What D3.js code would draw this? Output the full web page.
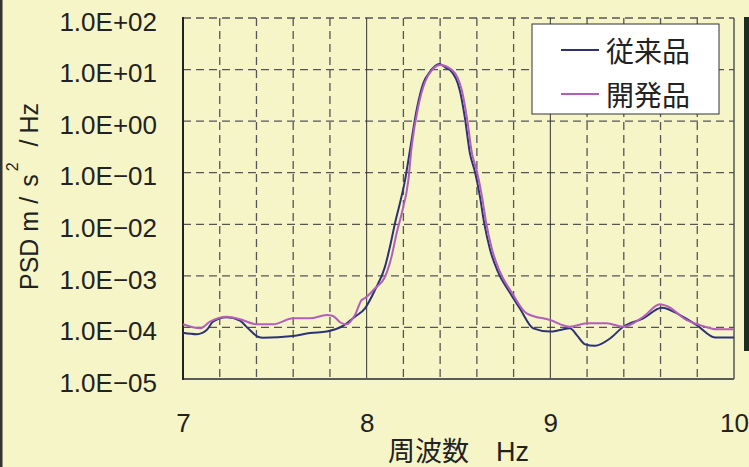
<!DOCTYPE html>
<html>
<head>
<meta charset="utf-8">
<script src="https://cdn.jsdelivr.net/npm/d3@7"></script>
<style>
  body { margin: 0; background: #f6f5c8; }
  svg { display: block; }
</style>
</head>
<body>
<svg id="chart"></svg>
<script>
const WIDTH = 749;
const HEIGHT = 467;

// 従来品 (conventional)
const convFreq = [7.000, 7.075, 7.129, 7.163, 7.238, 7.310, 7.354, 7.408, 7.436, 7.599,
  7.691, 7.782, 7.871, 7.936, 7.991, 8.045, 8.100, 8.127, 8.154, 8.181,
  8.209, 8.236, 8.272, 8.308, 8.345, 8.395, 8.436, 8.454, 8.508, 8.535,
  8.562, 8.590, 8.617, 8.639, 8.671, 8.715, 8.780, 8.835, 8.907, 8.998,
  9.053, 9.107, 9.144, 9.189, 9.243, 9.325, 9.397, 9.506, 9.606, 9.706,
  9.797, 9.897, 10.000];
const convPsd = [7.9e-5, 7.4e-5, 8.9e-5, 1.29e-4, 1.57e-4, 1.35e-4, 9.6e-5, 6.6e-5, 6.3e-5, 6.8e-5,
  7.8e-5, 8.3e-5, 1.07e-4, 1.61e-4, 2.35e-4, 5.3e-4, 1.51e-3, 3.7e-3, 1.04e-2, 2.55e-2,
  7.2e-2, 0.276, 1.64, 5.42, 9.1, 12.8, 10.6, 9.8, 3.85, 1.15,
  0.24, 0.103, 0.034, 0.011, 3.3e-3, 1.19e-3, 4.7e-4, 2.3e-4, 9.6e-5, 8.3e-5,
  8.9e-5, 9.6e-5, 7.1e-5, 4.7e-5, 4.4e-5, 6.1e-5, 1.03e-4, 1.50e-4, 2.41e-4, 1.74e-4,
  1.11e-4, 6.4e-5, 6.4e-5];

// 開発品 (developed)
const devFreq = [7.000, 7.093, 7.147, 7.238, 7.310, 7.401, 7.490, 7.599, 7.691, 7.782,
  7.817, 7.855, 7.891, 7.936, 7.973, 7.991, 8.045, 8.100, 8.136, 8.163,
  8.191, 8.227, 8.245, 8.281, 8.318, 8.356, 8.399, 8.465, 8.519, 8.546,
  8.573, 8.601, 8.628, 8.650, 8.682, 8.726, 8.791, 8.871, 8.998, 9.107,
  9.198, 9.307, 9.397, 9.506, 9.597, 9.634, 9.743, 9.815, 9.906, 10.000];
const devPsd = [1.15e-4, 9.6e-5, 1.29e-4, 1.61e-4, 1.44e-4, 1.15e-4, 1.15e-4, 1.50e-4, 1.50e-4, 1.74e-4,
  1.67e-4, 1.26e-4, 1.15e-4, 1.74e-4, 3.4e-4, 3.7e-4, 5.7e-4, 9.6e-4, 2.4e-3, 6.7e-3,
  1.63e-2, 7.2e-2, 0.32, 1.91, 5.8, 9.8, 12.3, 9.8, 3.85, 1.15,
  0.24, 0.103, 0.034, 0.011, 3.3e-3, 1.19e-3, 4.7e-4, 1.88e-4, 1.39e-4, 1.03e-4,
  1.20e-4, 1.20e-4, 1.03e-4, 1.61e-4, 2.81e-4, 2.61e-4, 1.39e-4, 1.11e-4, 9.2e-5, 9.2e-5];

const seriesNames = ["従来品", "開発品"];
const seriesColors = ["#2d3272", "#b25fba"];

const yTickValues = [1e-5, 1e-4, 1e-3, 1e-2, 1e-1, 1e0, 1e1, 1e2];
const yTickLabels = ["1.0E\u221205", "1.0E\u221204", "1.0E\u221203", "1.0E\u221202",
  "1.0E\u221201", "1.0E+00", "1.0E+01", "1.0E+02"];
const xTickValues = [7, 8, 9, 10];

const xTitle = "周波数\u3000Hz";

// plot frame
const plot = { left: 183, right: 734, top: 18, bottom: 379 };

const svg = d3.select("#chart")
  .attr("width", WIDTH)
  .attr("height", HEIGHT)
  .style("font-family", "'Liberation Sans', Arial, 'Noto Sans CJK JP', sans-serif");

svg.append("rect")
  .attr("width", WIDTH)
  .attr("height", HEIGHT)
  .attr("fill", "#f6f5c8");

// edge of the outer frame, left, and a cut-off dark panel on the right
svg.append("rect").attr("x", 0).attr("y", 0).attr("width", 2.5).attr("height", HEIGHT).attr("fill", "#333");
svg.append("rect").attr("x", 744).attr("y", 17).attr("width", 5).attr("height", 334).attr("fill", "#1f2a20");

const xScale = d3.scaleLinear().domain([7, 10]).range([plot.left, plot.right]);
const yScale = d3.scaleLog().domain([1e-5, 1e2]).range([plot.bottom, plot.top]);

const grid = svg.append("g");

// horizontal dashed grid, one per decade
grid.selectAll(".hgrid")
  .data(yTickValues.slice(1))
  .enter()
  .append("line")
  .attr("class", "hgrid")
  .attr("x1", plot.left)
  .attr("x2", plot.right)
  .attr("y1", d => yScale(d))
  .attr("y2", d => yScale(d))
  .attr("stroke", "#555")
  .attr("stroke-width", 1.3)
  .attr("stroke-dasharray", "8,5");

// vertical dashed grid every 0.2 Hz
const minorX = d3.range(1, 15).map(i => 7 + i * 0.2).filter(v => Math.abs(v - Math.round(v)) > 0.01);
grid.selectAll(".vgrid")
  .data(minorX)
  .enter()
  .append("line")
  .attr("class", "vgrid")
  .attr("x1", d => xScale(d))
  .attr("x2", d => xScale(d))
  .attr("y1", plot.top)
  .attr("y2", plot.bottom)
  .attr("stroke", "#555")
  .attr("stroke-width", 1.3)
  .attr("stroke-dasharray", "8,5");

// solid lines at whole Hz
grid.selectAll(".vmajor")
  .data([8, 9])
  .enter()
  .append("line")
  .attr("class", "vmajor")
  .attr("x1", d => xScale(d))
  .attr("x2", d => xScale(d))
  .attr("y1", plot.top)
  .attr("y2", plot.bottom)
  .attr("stroke", "#333")
  .attr("stroke-width", 1);

grid.append("line")
  .attr("x1", plot.right).attr("x2", plot.right)
  .attr("y1", plot.top).attr("y2", plot.bottom)
  .attr("stroke", "#555").attr("stroke-width", 1.5);

grid.append("line")
  .attr("x1", plot.left).attr("x2", plot.right)
  .attr("y1", plot.bottom).attr("y2", plot.bottom)
  .attr("stroke", "#5a5a5a").attr("stroke-width", 2);

grid.append("line")
  .attr("x1", plot.left).attr("x2", plot.left)
  .attr("y1", plot.top - 1).attr("y2", plot.bottom + 1)
  .attr("stroke", "#222").attr("stroke-width", 2);

// curves
const line = d3.line()
  .x(d => xScale(d[0]))
  .y(d => yScale(d[1]))
  .curve(d3.curveMonotoneX);

const conv = convFreq.map((f, i) => [f, convPsd[i]]);
const dev = devFreq.map((f, i) => [f, devPsd[i]]);

svg.append("path")
  .datum(conv)
  .attr("d", line)
  .attr("fill", "none")
  .attr("stroke", seriesColors[0])
  .attr("stroke-width", 2);

svg.append("path")
  .datum(dev)
  .attr("d", line)
  .attr("fill", "none")
  .attr("stroke", seriesColors[1])
  .attr("stroke-width", 2);

// axes
const axisLeft = d3.axisLeft(yScale)
  .tickValues(yTickValues)
  .tickFormat((d, i) => yTickLabels[i])
  .tickSize(0)
  .tickPadding(26);

const yAxis = svg.append("g")
  .attr("transform", `translate(${plot.left},0)`)
  .call(axisLeft);
yAxis.select(".domain").remove();
yAxis.selectAll("text")
  .attr("dy", "0.47em")
  .style("font-size", "26px")
  .style("font-family", "'Liberation Sans', Arial, sans-serif")
  .attr("fill", "#222");

const axisBottom = d3.axisBottom(xScale)
  .tickValues(xTickValues)
  .tickFormat(d3.format("d"))
  .tickSize(0)
  .tickPadding(34.5);

const xAxis = svg.append("g")
  .attr("transform", `translate(0,${plot.bottom})`)
  .call(axisBottom);
xAxis.select(".domain").remove();
xAxis.selectAll("text")
  .style("font-size", "26px")
  .style("font-family", "'Liberation Sans', Arial, sans-serif")
  .attr("fill", "#222");

// axis titles
svg.append("text")
  .attr("x", (plot.left + plot.right) / 2)
  .attr("y", 461)
  .attr("text-anchor", "middle")
  .style("font-size", "27px")
  .attr("fill", "#222")
  .text(xTitle);

const yTitle = svg.append("text")
  .attr("transform", "translate(38,290) rotate(-90)")
  .attr("text-anchor", "start")
  .style("font-size", "25px")
  .attr("fill", "#222");
yTitle.append("tspan").text("PSD m");
yTitle.append("tspan").attr("dx", 7).text("/");
yTitle.append("tspan").attr("dx", 10).text("s");
yTitle.append("tspan").attr("dx", 3).attr("dy", -20).style("font-size", "16px").text("2");
yTitle.append("tspan").attr("dx", 9).attr("dy", 20).text(" /");
yTitle.append("tspan").attr("dx", 6).text("Hz");

// legend
const legend = svg.append("g");
legend.append("rect")
  .attr("x", 532)
  .attr("y", 24)
  .attr("width", 187)
  .attr("height", 90)
  .attr("fill", "#fff")
  .attr("stroke", "#333")
  .attr("stroke-width", 1);

const legendRows = legend.selectAll(".row")
  .data(seriesNames)
  .enter()
  .append("g")
  .attr("class", "row")
  .attr("transform", (d, i) => `translate(0,${50 + i * 44})`);

legendRows.append("line")
  .attr("x1", 561)
  .attr("x2", 599)
  .attr("stroke", (d, i) => seriesColors[i])
  .attr("stroke-width", 2);

legendRows.append("text")
  .attr("x", 606)
  .attr("dominant-baseline", "central")
  .style("font-family", "'Noto Sans CJK JP', sans-serif")
  .style("font-size", "28px")
  .attr("fill", "#222")
  .text(d => d);
</script>
</body>
</html>
